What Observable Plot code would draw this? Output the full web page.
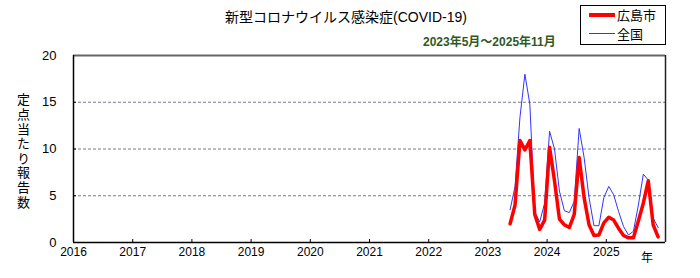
<!DOCTYPE html>
<html>
<head>
<meta charset="utf-8">
<script src="https://cdn.jsdelivr.net/npm/d3@7"></script>
<script src="https://cdn.jsdelivr.net/npm/@observablehq/plot@0.6"></script>
<style>
  html, body { margin: 0; padding: 0; background: #fff; }
  #wrap { position: relative; width: 700px; height: 278px; font-family: "Liberation Sans", "Noto Sans CJK JP", sans-serif; }
  .ov { position: absolute; white-space: nowrap; color: #000; }
  #title { left: 225px; top: 6px; font-size: 14px; }
  #sub { left: 423px; top: 32px; font-size: 12px; font-weight: bold; color: #2f5a1f; }
  #ylab { left: 14px; top: 93px; font-size: 13px; writing-mode: vertical-rl; text-orientation: upright; letter-spacing: 1.6px; font-family: "Noto Sans CJK JP", sans-serif; }
  #nen { left: 641px; top: 248px; font-size: 12px; font-family: "Noto Sans CJK JP", sans-serif; }
  #legend { left: 580px; top: 5px; width: 84px; height: 38px; border: 1px solid #000; background: #fff; }
  .lg { position: absolute; left: 8px; width: 26px; }
  .lt { position: absolute; left: 36px; font-size: 13px; font-family: "Noto Sans CJK JP", sans-serif; line-height: 14px; }
</style>
</head>
<body>
<div id="wrap">
  <div id="chart"></div>
  <div class="ov" id="title">新型コロナウイルス感染症(COVID-19)</div>
  <div class="ov" id="sub">2023年5月～2025年11月</div>
  <div class="ov" id="ylab">定点当たり報告数</div>
  <div class="ov" id="nen">年</div>
  <div class="ov" id="legend">
    <div class="lg" style="top:7px;height:4px;background:#ff0000;"></div>
    <div class="lt" style="top:2px;">広島市</div>
    <div class="lg" style="top:27px;height:1px;background:#3333ff;"></div>
    <div class="lt" style="top:21px;">全国</div>
  </div>
</div>
<script>
const months = [
  "2023-05","2023-06","2023-07","2023-08","2023-09","2023-10","2023-11","2023-12",
  "2024-01","2024-02","2024-03","2024-04","2024-05","2024-06","2024-07","2024-08","2024-09","2024-10","2024-11","2024-12",
  "2025-01","2025-02","2025-03","2025-04","2025-05","2025-06","2025-07","2025-08","2025-09","2025-10","2025-11"
];
const hiroshima = [2.0,4.0,10.9,9.9,10.9,3.0,1.4,2.4,10.2,6.6,2.5,1.9,1.6,3.0,9.1,4.8,1.9,0.75,0.8,2.1,2.7,2.4,1.5,0.75,0.5,0.5,2.3,4.2,6.6,1.9,0.6];
const national = [3.5,6.0,13.4,18.0,14.8,3.3,2.2,4.2,11.9,10.0,5.5,3.4,3.2,4.4,12.2,9.1,4.8,1.8,1.8,4.8,6.0,5.1,3.3,1.7,0.8,1.2,4.0,7.3,6.7,2.6,1.6];
const yearTicks = [2016,2017,2018,2019,2020,2021,2022,2023,2024,2025];
const yTicks = [0,5,10,15,20];
const gridTicks = [5,10,15];

const toX = m => { const [y, mo] = m.split("-").map(Number); return y + (mo - 0.5) / 12; };
const hData = months.map((m, i) => ({x: toX(m), y: hiroshima[i]}));
const nData = months.map((m, i) => ({x: toX(m), y: national[i]}));

const chart = Plot.plot({
  width: 700,
  height: 278,
  marginLeft: 73,
  marginRight: 35,
  marginTop: 55,
  marginBottom: 36,
  style: {fontFamily: "Liberation Sans, Arial, sans-serif", fontSize: "12px", color: "#000", background: "#fff"},
  x: {domain: [2016, 2026]},
  y: {domain: [0, 20]},
  marks: [
    Plot.gridY(gridTicks, {stroke: "#777799", strokeOpacity: 1, strokeDasharray: "3,2", strokeWidth: 1}),
    Plot.axisY(yTicks, {tickSize: 0, tickPadding: 17, fontSize: 13, label: null}),
    Plot.axisY(gridTicks, {tickSize: -3, tickFormat: () => "", label: null, stroke: "#000"}),
    Plot.axisX(yearTicks, {tickSize: 0, tickPadding: 5, fontSize: 12, tickFormat: d => String(d), label: null}),
    Plot.axisX(yearTicks.slice(1), {tickSize: -3, tickFormat: () => "", label: null, stroke: "#000"}),
    Plot.ruleY([20], {stroke: "#666", strokeWidth: 2}),
    Plot.ruleX([2026], {stroke: "#222", strokeWidth: 1.5}),
    Plot.ruleX([2016], {stroke: "#000", strokeWidth: 1.5}),
    Plot.ruleY([0], {stroke: "#000", strokeWidth: 1.5}),
    Plot.line(nData, {x: "x", y: "y", stroke: "#3333ff", strokeWidth: 1}),
    Plot.line(hData, {x: "x", y: "y", stroke: "#ff0000", strokeWidth: 3.5})
  ]
});
document.getElementById("chart").appendChild(chart);
</script>
</body>
</html>
